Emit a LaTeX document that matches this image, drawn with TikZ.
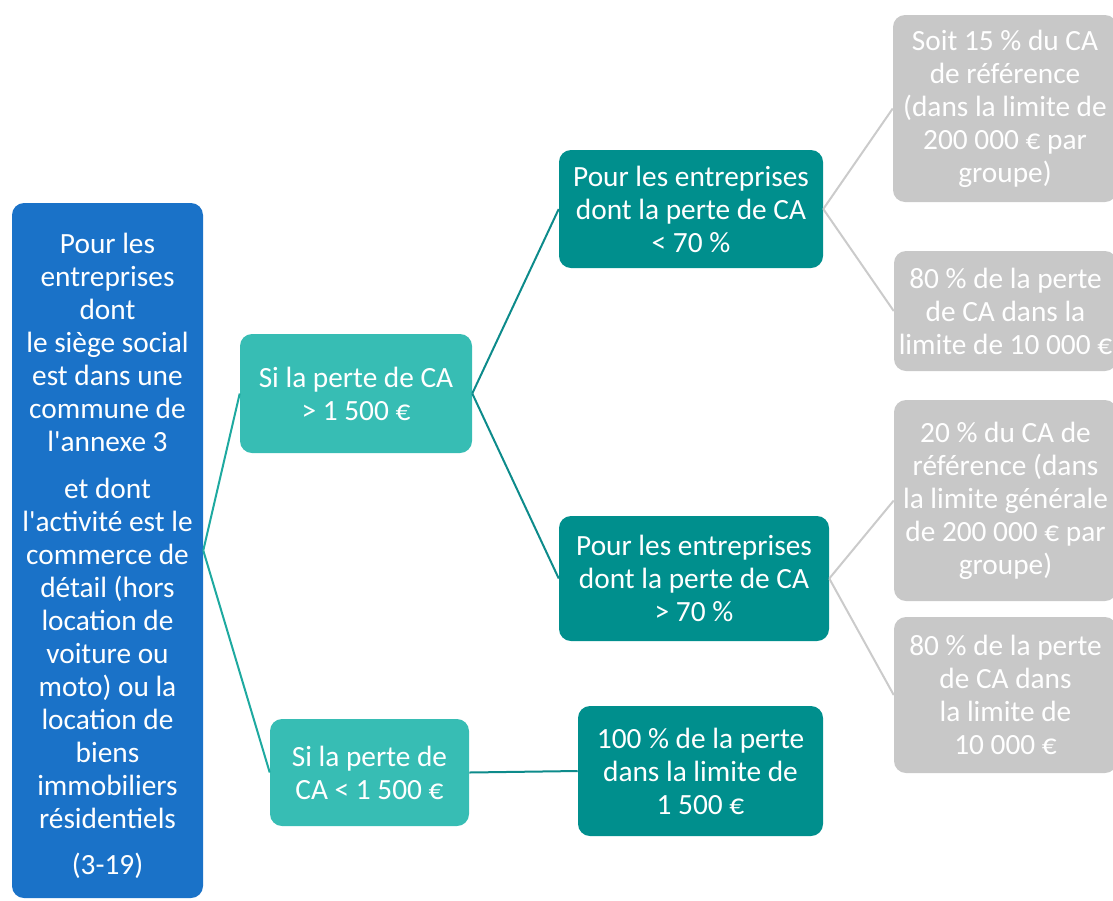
\documentclass[tikz,border=0pt]{standalone}
\usepackage{fontspec}
\setmainfont{Carlito}
\newfontfamily\widefont{Carlito}[FakeStretch=1.0, Ligatures=TeXOff]
\definecolor{leftblue}{HTML}{1A72C8}
\definecolor{lightteal}{HTML}{37BDB4}
\definecolor{darkteal}{HTML}{008F8D}
\definecolor{boxgray}{HTML}{C8C8C8}
\definecolor{linegray}{HTML}{CBCBCB}
\definecolor{linelight}{HTML}{1EA9A0}
\definecolor{linedark}{HTML}{0D8B8B}
\tikzset{
  base/.style={rectangle, rounded corners=9pt, text=white, align=center, inner sep=0pt,
    font=\fontsize{22}{24.75}\selectfont},
  bluebox/.style={base, fill=leftblue, font=\widefont\fontsize{22}{24.75}\selectfont},
  lightbox/.style={base, fill=lightteal},
  darkbox/.style={base, fill=darkteal},
  graybox/.style={base, fill=boxgray},
  linkA/.style={draw=linelight, line width=1.5pt},
  linkB/.style={draw=linedark, line width=1.5pt},
  linkC/.style={draw=linegray, line width=1.5pt}
}
\begin{document}
\begin{tikzpicture}[x=0.75pt,y=-0.75pt]
\useasboundingbox (0,0) rectangle (1113,900);
\clip (0,0) rectangle (1113,900);
\node[bluebox, minimum width=143.25pt, minimum height=521.25pt] (root) at (107.5,550.5)
 {\rule{0pt}{23pt}Pour les\\entreprises\\dont\\le siège social\\est dans une\\commune de\\l'annexe 3\\[10.5pt]
  et dont\\l'activité est le\\commerce de\\détail (hors\\location de\\voiture ou\\moto) ou la\\location de\\biens\\immobiliers\\résidentiels\\[10pt](3-19)};
\node[lightbox, minimum width=174pt, minimum height=89.25pt] (big) at (356,393.5)
 {Si la perte de CA\\> 1 500 €};
\node[lightbox, minimum width=149.25pt, minimum height=80.25pt] (small) at (369.5,772.5)
 {Si la perte de\\CA < 1 500 €};
\node[darkbox, minimum width=198pt, minimum height=88.5pt] (lt70) at (691,209)
 {Pour les entreprises\\dont la perte de CA\\< 70 \%};
\node[darkbox, minimum width=202.5pt, minimum height=93.75pt] (gt70) at (694,578.5)
 {Pour les entreprises\\dont la perte de CA\\> 70 \%};
\node[darkbox, minimum width=183.75pt, minimum height=97.5pt] (full) at (700.5,771)
 {100 \% de la perte\\dans la limite de\\1 500 €};
\node[graybox, minimum width=168pt, minimum height=140.25pt] (g1) at (1005,108.5)
 {Soit 15 \% du CA\\de référence\\(dans la limite de\\200 000 € par\\groupe)};
\node[graybox, minimum width=167.25pt, minimum height=90pt] (g2) at (1005.5,311)
 {80 \% de la perte\\de CA dans la\\limite de 10 000 €};
\node[graybox, minimum width=167.25pt, minimum height=150.75pt] (g3) at (1005.5,500.5)
 {20 \% du CA de\\référence (dans\\la limite générale\\de 200 000 € par\\groupe)};
\node[graybox, minimum width=167.25pt, minimum height=117pt] (g4) at (1005.5,695)
 {80 \% de la perte\\de CA dans\\la limite de\\10 000 €};
\draw[linkA] (root.east) -- (big.west);
\draw[linkA] (root.east) -- (small.west);
\draw[linkB] (big.east) -- (lt70.west);
\draw[linkB] (big.east) -- (gt70.west);
\draw[linkB] (small.east) -- (full.west);
\draw[linkC] (lt70.east) -- (g1.west);
\draw[linkC] (lt70.east) -- (g2.west);
\draw[linkC] (gt70.east) -- (g3.west);
\draw[linkC] (gt70.east) -- (g4.west);
\end{tikzpicture}
\end{document}
